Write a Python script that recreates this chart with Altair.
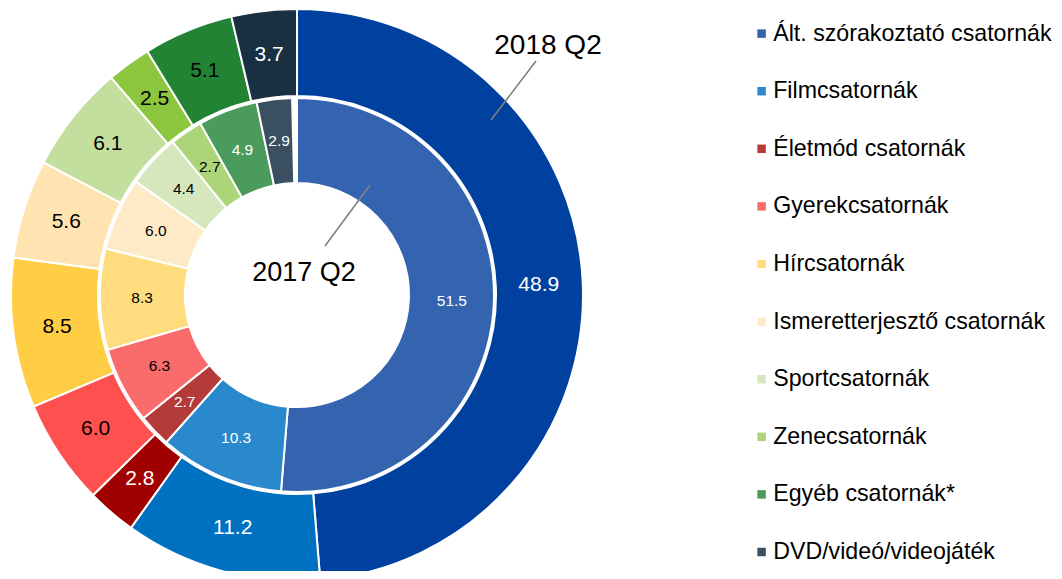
import altair as alt
import pandas as pd

categories = ["Ált. szórakoztató csatornák", "Filmcsatornák", "Életmód csatornák",
              "Gyerekcsatornák", "Hírcsatornák", "Ismeretterjesztő csatornák",
              "Sportcsatornák", "Zenecsatornák", "Egyéb csatornák*", "DVD/videó/videojáték"]
v2018 = [48.9, 11.2, 2.8, 6.0, 8.5, 5.6, 6.1, 2.5, 5.1, 3.7]
v2017 = [51.5, 10.3, 2.7, 6.3, 8.3, 6.0, 4.4, 2.7, 4.9, 2.9]
colors2018 = ["#0041A0", "#0070C0", "#A00000", "#FF5050", "#FFCE44",
              "#FFE3B0", "#C3DF9D", "#8CC63E", "#228334", "#183041"]
colors2017 = ["#3464B0", "#2A89CC", "#B53B3B", "#FA6B6B", "#FFDC7E",
              "#FFEAC8", "#D6E7BD", "#ACD57A", "#4A9B5C", "#3A5061"]
text2018 = ["white", "white", "white", "black", "black", "black", "black", "black", "black", "white"]
text2017 = ["white", "white", "white", "black", "black", "black", "black", "black", "white", "white"]

df18 = pd.DataFrame({"cat": categories, "value": v2018, "idx": range(10),
                     "fill": colors2018, "tcol": text2018,
                     "label": [f"{v:.1f}" for v in v2018]})
df17 = pd.DataFrame({"cat": categories, "value": v2017, "idx": range(10),
                     "fill": colors2017, "tcol": text2017,
                     "label": [f"{v:.1f}" for v in v2017]})

CX, CY = 289, 287

theta = alt.Theta("value:Q", stack=True)
order = alt.Order("idx:Q", sort="ascending")

outer = alt.Chart(df18).mark_arc(radius=286, radius2=199, stroke="white", strokeWidth=2).encode(
    theta=theta, order=order, color=alt.Color("fill:N", scale=None),
    x=alt.value(CX), y=alt.value(CY))

inner = alt.Chart(df17).mark_arc(radius=197, radius2=112, stroke="white", strokeWidth=2).encode(
    theta=theta, order=order,
    color=alt.Color("cat:N", scale=alt.Scale(domain=categories, range=colors2017),
                    sort=categories,
                    legend=alt.Legend(title=None, orient="none", legendX=742, legendY=14,
                                      symbolType="square", symbolSize=72, symbolStrokeWidth=0,
                                      labelFontSize=23.2, labelOffset=0, rowPadding=33.6,
                                      labelLimit=400, padding=0, labelColor="black")),
    x=alt.value(CX), y=alt.value(CY))

outer_text = alt.Chart(df18).mark_text(radius=242, fontSize=21).encode(
    theta=theta, order=order, text="label:N", color=alt.Color("tcol:N", scale=None),
    x=alt.value(CX), y=alt.value(CY))

inner_text = alt.Chart(df17).mark_text(radius=155, fontSize=15.5).encode(
    theta=theta, order=order, text="label:N", color=alt.Color("tcol:N", scale=None),
    x=alt.value(CX), y=alt.value(CY))

ann = pd.DataFrame({"t": ["2018 Q2"]})
ann2 = pd.DataFrame({"t": ["2017 Q2"]})

t18 = alt.Chart(ann).mark_text(fontSize=28, color="black").encode(
    text="t:N", x=alt.value(540), y=alt.value(38))
t17 = alt.Chart(ann2).mark_text(fontSize=27, color="black").encode(
    text="t:N", x=alt.value(296), y=alt.value(265))
l18 = alt.Chart(ann).mark_rule(color="#808080", strokeWidth=1.6).encode(
    x=alt.value(528), y=alt.value(53), x2=alt.value(483), y2=alt.value(112))
l17 = alt.Chart(ann2).mark_rule(color="#808080", strokeWidth=1.6).encode(
    x=alt.value(362), y=alt.value(177), x2=alt.value(317), y2=alt.value(238))

chart = alt.layer(outer, inner, outer_text, inner_text, l18, l17, t18, t17).properties(
    width=1046, height=563, padding=0, autosize=alt.AutoSizeParams(type="none")
).configure(font="Liberation Sans").configure_view(stroke=None)

chart.save("out.html", embed_options={"renderer": "svg", "actions": False})
